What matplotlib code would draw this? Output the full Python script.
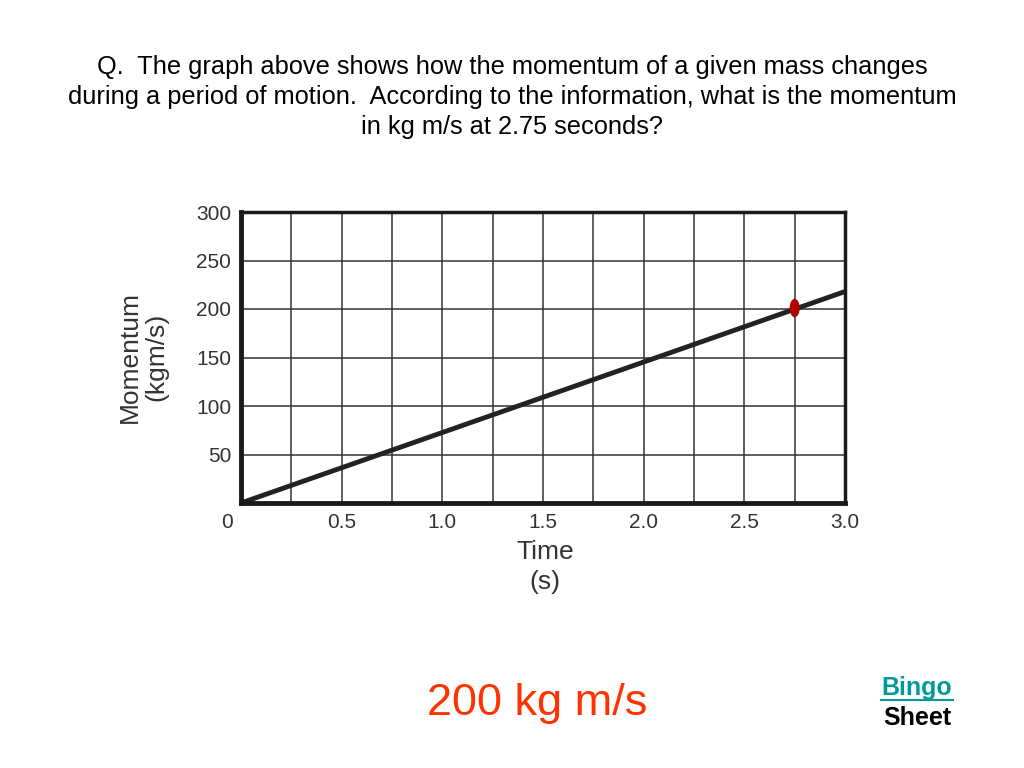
import matplotlib.pyplot as plt
from matplotlib.lines import Line2D
from matplotlib.patches import Ellipse

plt.rcParams['font.family'] = ['Liberation Sans', 'DejaVu Sans']

# data
time_s = [0.0, 3.0]
momentum = [0.0, 218.0]
point_t = 2.75
point_p = 201.0
x_ticks = [0.5, 1.0, 1.5, 2.0, 2.5, 3.0]
x_labels = ['0.5', '1.0', '1.5', '2.0', '2.5', '3.0']
y_ticks = [50, 100, 150, 200, 250, 300]

question = ("Q.  The graph above shows how the momentum of a given mass changes\n"
            "during a period of motion.  According to the information, what is the momentum\n"
            "in kg m/s at 2.75 seconds?")
answer = "200 kg m/s"

fig = plt.figure(figsize=(10.24, 7.68), dpi=100)
ax = fig.add_axes([241/1024, 1 - 503/768, (845-241)/1024, (503-212)/768])

ax.set_xlim(0, 3.0)
ax.set_ylim(0, 300)

# grid
for t in [i * 0.25 for i in range(1, 12)]:
    ax.axvline(t, color='#333333', lw=1.1, zorder=1)
for p in range(50, 300, 50):
    ax.axhline(p, color='#333333', lw=1.1, zorder=1)

ax.plot(time_s, momentum, color='#222222', lw=3.5, solid_capstyle='butt', zorder=3)
ax.add_patch(Ellipse((point_t, point_p), 0.05, 19, color='#b00000', lw=0, zorder=4))

ax.set_xticks(x_ticks)
ax.set_xticklabels(x_labels)
ax.set_yticks(y_ticks)
ax.tick_params(length=0, labelsize=15, colors='#333333', pad=7)
ax.text(-0.04, -10, '0', ha='right', va='top', fontsize=15, color='#333333')

for side in ['left', 'bottom']:
    ax.spines[side].set_linewidth(3.5)
for side in ['right', 'top']:
    ax.spines[side].set_linewidth(2.5)
for s in ax.spines.values():
    s.set_color('#1a1a1a')
    s.set_zorder(5)

fig.text(143/1024, 1 - 357/768, "Momentum\n(kgm/s)", rotation=90, ha='center',
         va='center', fontsize=19, color='#333333', linespacing=1.1)
fig.text(545/1024, 1 - 567/768, "Time\n(s)", ha='center', va='center',
         fontsize=19, color='#333333', linespacing=1.3)

fig.text(0.5, 1 - 97/768, question, ha='center', va='center', fontsize=18.3,
         color='black', linespacing=1.3)
fig.text(537/1024, 1 - 703/768, answer, ha='center', va='center',
         fontsize=32.5, color='#ff3300')

fig.text(917/1024, 1 - 688/768, "Bingo", ha='center', va='center',
         fontsize=18, fontweight='bold', color='#009999')
fig.add_artist(Line2D([881/1024, 953/1024], [1 - 700/768, 1 - 700/768],
                      color='#009999', lw=1.5))
fig.text(917/1024, 1 - 718/768, "Sheet", ha='center', va='center',
         fontsize=18, fontweight='bold', color='black')

fig.savefig('out.png', dpi=100)
